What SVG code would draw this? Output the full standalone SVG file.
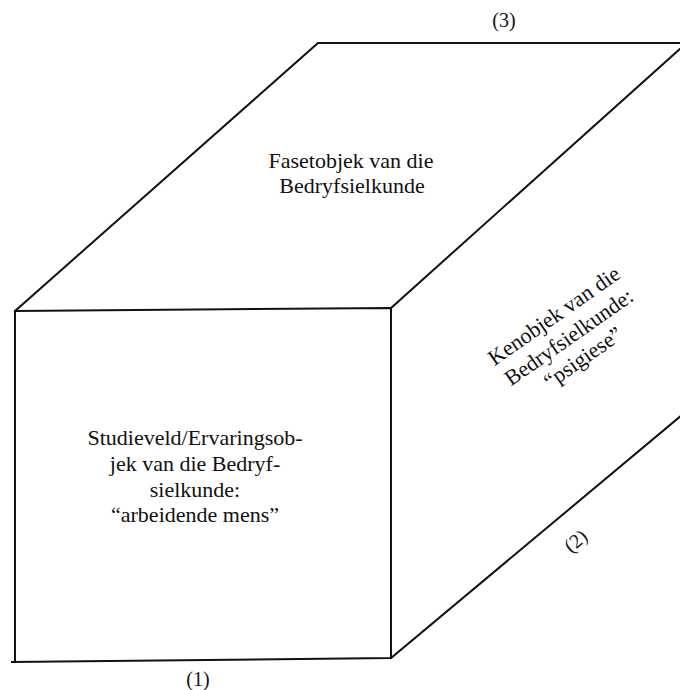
<svg xmlns="http://www.w3.org/2000/svg" width="680" height="690" viewBox="0 0 680 690">
<style>
.edge{fill:none;stroke:#111;stroke-width:2;stroke-linejoin:miter;stroke-linecap:square}
.t{font-family:"Liberation Serif","Times New Roman",serif;font-size:22px;fill:#111;text-anchor:middle}
.n{font-family:"Liberation Serif","Times New Roman",serif;font-size:20px;fill:#111;text-anchor:middle}
</style>
<rect width="680" height="690" fill="#fff"/>
<g id="connectors">
<polyline class="edge" points="15,311 391,308 391,658 12,662"/>
<line class="edge" x1="15" y1="311" x2="15" y2="662"/>
<polyline class="edge" points="15,311 318,43 682,43"/>
<line class="edge" x1="391" y1="308" x2="682" y2="47"/>
<line class="edge" x1="391" y1="658" x2="682" y2="415"/>
</g>
<g id="top-face">
<text class="t" x="351" y="168">Fasetobjek van die</text>
<text class="t" x="352" y="193">Bedryfsielkunde</text>
</g>
<g id="front-face">
<text class="t" x="195" y="445">Studieveld/Ervaringsob-</text>
<text class="t" x="195" y="471">jek van die Bedryf-</text>
<text class="t" x="195" y="497">sielkunde:</text>
<text class="t" x="195" y="522">“arbeidende mens”</text>
</g>
<g id="side-face" transform="translate(573,343) rotate(-35)">
<text class="t" x="0" y="-26">Kenobjek van die</text>
<text class="t" x="0" y="0">Bedryfsielkunde:</text>
<text class="t" x="0" y="25">“psigiese”</text>
</g>
<g id="labels">
<text class="n" x="504" y="27">(3)</text>
<text class="n" x="198" y="686">(1)</text>
<text class="n" transform="translate(580,546) rotate(-40)" x="0" y="0">(2)</text>
</g>
</svg>
